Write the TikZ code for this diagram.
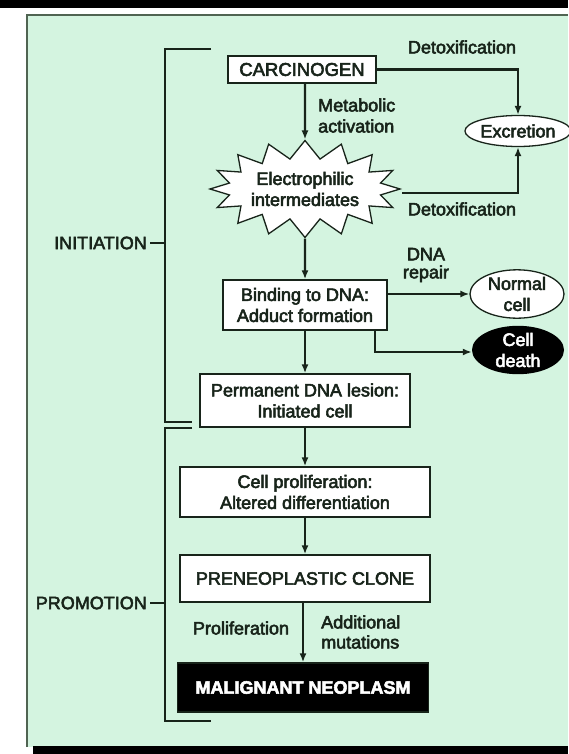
\documentclass[tikz,border=0pt]{standalone}
\usepackage{fontspec}
\setmainfont[FakeBold=3]{Liberation Sans}
\usetikzlibrary{shapes.geometric,shapes.symbols,arrows.meta}
\definecolor{mint}{RGB}{212,244,224}
\definecolor{framec}{RGB}{80,100,82}
\definecolor{ink}{RGB}{24,36,26}
\begin{document}
\begin{tikzpicture}[x=1pt,y=1pt,
  txt/.style={font=\fontsize{18}{21}\selectfont, text=ink, align=center},
  box/.style={txt, draw=ink, line width=1.4pt, fill=white, inner sep=0pt},
  oval/.style={txt, ellipse, draw=ink, line width=1.3pt, fill=white, inner sep=0pt},
  arr/.style={draw=ink, line width=2.2pt, -{Latex[length=9pt,width=7pt]}},
  brk/.style={draw=ink, line width=2pt}]
\useasboundingbox (0,0) rectangle (568,-754);
\fill[white] (0,0) rectangle (568,-754);
\fill[mint] (27,-15) rectangle (568,-747);
\fill[black] (0,0) rectangle (568,-8);
\fill[black] (33,-746) rectangle (568,-754);
\draw[framec, line width=1.6pt] (27,-747) -- (27,-15) -- (568,-15);

% nodes
\node[box, font=\fontsize{18.5}{22}\selectfont, minimum width=148pt, minimum height=27pt] (carc) at (302,-69.5) {CARCINOGEN};
\node[txt] (detox1) at (462,-47) {Detoxification};
\node[oval, minimum width=92pt, minimum height=31pt] (exc) at (518,-131) {Excretion};
\node[txt, anchor=west, align=left, inner sep=0pt] (meta) at (318,-115.5) {Metabolic\\activation};
\node[txt, starburst, draw=ink, line width=1.3pt, fill=white, starburst points=16,
      starburst point height=18pt, random starburst=0, minimum width=190pt, minimum height=97pt,
      inner sep=0pt] (el) at (305,-189) {Electrophilic\\intermediates};
\node[txt] (detox2) at (462,-209) {Detoxification};
\node[txt, anchor=east, inner sep=1pt] (init) at (148,-243) {INITIATION};
\node[box, minimum width=164pt, minimum height=50pt] (bind) at (305,-305) {Binding to DNA:\\Adduct formation};
\node[txt, font=\fontsize{18}{18}\selectfont] (rep) at (426,-265) {DNA\\repair};
\node[oval, minimum width=94pt, minimum height=46pt] (nc) at (517,-294) {Normal\\cell};
\node[txt, ellipse, fill=black, text=white, minimum width=92pt, minimum height=48pt, inner sep=0pt] (cd) at (518,-350) {Cell\\death};
\node[box, minimum width=210pt, minimum height=53pt] (perm) at (305,-400.5) {Permanent DNA lesion:\\Initiated cell};
\node[box, minimum width=250pt, minimum height=50pt] (prol) at (305,-492) {Cell proliferation:\\Altered differentiation};
\node[box, minimum width=250pt, minimum height=47pt] (pre) at (305,-578.5) {PRENEOPLASTIC CLONE};
\node[txt] (prolif) at (241,-628) {Proliferation};
\node[txt, anchor=west, align=left, inner sep=0pt, font=\fontsize{18}{20}\selectfont] (add) at (321,-632) {Additional\\mutations};
\node[box, fill=black, text=white, font=\fontsize{18}{21}\selectfont\bfseries, minimum width=251pt, minimum height=49pt] (mal) at (303,-687.5) {MALIGNANT NEOPLASM};
\node[txt, anchor=east, inner sep=1pt] (prom) at (148,-603) {PROMOTION};

% connectors
\draw[arr] (carc.south -| el) -- (el);
\draw[arr] (carc.east) -| (exc.north);
\draw[arr] ([yshift=-4pt]el.east) -| (exc.south);
\draw[arr] (el) -- (bind);
\draw[arr] (bind.east |- nc.west) -- (nc.west);
\draw[arr] ([xshift=70pt]bind.south) |- ([yshift=-2pt]cd.west);
\draw[arr] (bind) -- (perm);
\draw[arr] (perm) -- (prol);
\draw[arr] (prol) -- (pre);
\draw[arr] (pre.south -| mal.north) -- (mal.north);

% brackets
\coordinate (ia) at (211,-49);
\coordinate (ib) at (165,-49);
\coordinate (ic) at (165,-422);
\coordinate (id) at (192,-422);
\coordinate (it) at (165,-243);
\draw[brk] (ia) -- (ib) -- (ic) -- (id);
\draw[brk, line width=1.5pt] ([xshift=2pt]init.east) -- (it);
\coordinate (pa) at (192,-428);
\coordinate (pb) at (165,-428);
\coordinate (pc) at (165,-721);
\coordinate (pd) at (211,-721);
\coordinate (pt) at (165,-603);
\draw[brk] (pa) -- (pb) -- (pc) -- (pd);
\draw[brk, line width=1.5pt] ([xshift=2pt]prom.east) -- (pt);
\end{tikzpicture}
\end{document}
